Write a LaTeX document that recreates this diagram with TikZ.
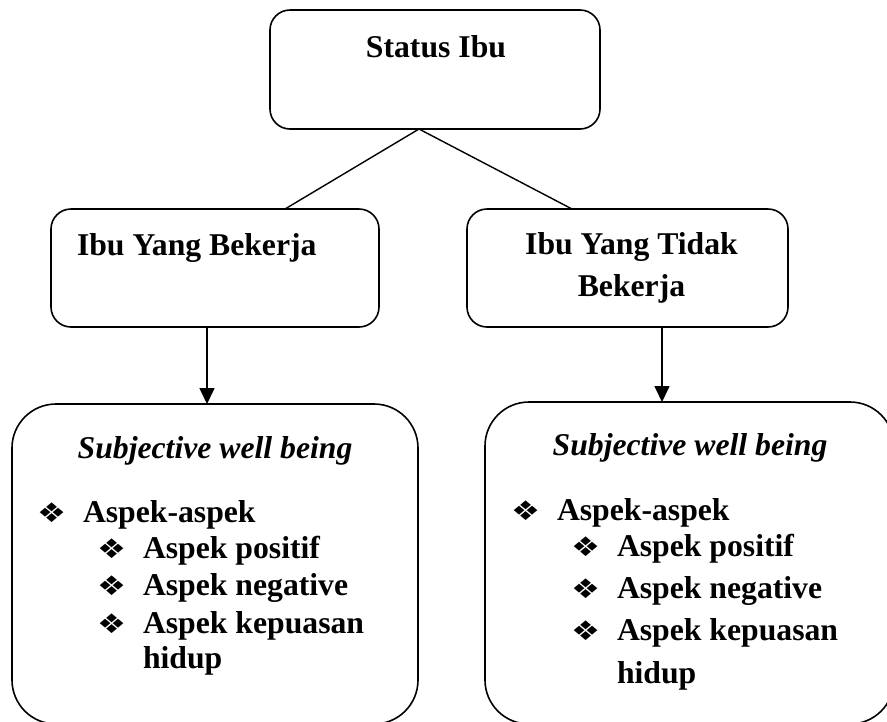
\documentclass[tikz,border=0pt]{standalone}
\usepackage{fontspec}
\setmainfont{Liberation Serif}
\newfontfamily\symfont{DejaVu Sans}
\usetikzlibrary{arrows.meta,calc}
\tikzset{
  box/.style={draw, line width=1.6pt, rounded corners=#1, inner sep=0pt, outer sep=0pt},
  txt/.style={inner sep=0pt, outer sep=0pt, font=\fontsize{31.7}{38}\selectfont\bfseries},
  itxt/.style={inner sep=0pt, outer sep=0pt, font=\fontsize{31.7}{38}\selectfont\bfseries\itshape},
  bul/.style={inner sep=0pt, outer sep=0pt, anchor=base west, font=\fontsize{27}{30}\selectfont\symfont},
  conn/.style={line width=1.4pt},
  arr/.style={line width=1.6pt, -{Triangle[width=15pt,length=16pt]}},
}
\newcommand{\bl}{\scalebox{1.2}[1]{\char"2756}}
\begin{document}
\begin{tikzpicture}[x=1pt,y=-1pt]
\clip (0,0) rectangle (887,721);
% boxes
\node[box=20pt, minimum width=330pt, minimum height=119pt] (top) at (435,69.5) {};
\node[box=20pt, minimum width=328pt, minimum height=118pt] (lb) at (215,268) {};
\node[box=20pt, minimum width=321pt, minimum height=118pt] (rb) at (627.5,268) {};
\node[box=44pt, minimum width=406pt, minimum height=320pt] (sl) at (215,564) {};
\node[box=44pt, minimum width=409pt, minimum height=322pt] (sr) at (689.5,563) {};
% helper coordinates
\coordinate (apx) at (419,0);
\coordinate (lx) at (285,0);
\coordinate (rx) at (572,0);
\coordinate (alx) at (207,0);
\coordinate (arx) at (662,0);
% connectors
\draw[conn] (top.south -| apx) -- (lb.north -| lx);
\draw[conn] (top.south -| apx) -- (rb.north -| rx);
\draw[arr] (lb.south -| alx) -- (sl.north -| alx);
\draw[arr] (rb.south -| arx) -- (sr.north -| arx);
% texts
\node[txt, anchor=base] (t0) at (436,57) {Status Ibu};
\node[txt, anchor=base west] (t1) at (77,255) {Ibu Yang Bekerja};
\node[txt, anchor=base] (t2a) at (631.5,254) {Ibu Yang Tidak};
\node[txt, anchor=base] (t2b) at (631.5,296) {Bekerja};
% left list
\node[itxt, anchor=base] (sw1) at (215,458) {Subjective well being};
\node[bul] (lb0) at (37,522) {\bl};
\node[txt, anchor=base west] (la0) at (83,522) {Aspek-aspek};
\node[bul] (lb1) at (97,558) {\bl};
\node[txt, anchor=base west] (la1) at (143,558) {Aspek positif};
\node[bul] (lb2) at (97,595) {\bl};
\node[txt, anchor=base west] (la2) at (143,595) {Aspek negative};
\node[bul] (lb3) at (97,633) {\bl};
\node[txt, anchor=base west] (la3) at (143,633) {Aspek kepuasan};
\node[txt, anchor=base west] (la4) at (143,668) {hidup};
% right list
\node[itxt, anchor=base] (sw2) at (690,455) {Subjective well being};
\node[bul] (rb0) at (511,520) {\bl};
\node[txt, anchor=base west] (ra0) at (557,520) {Aspek-aspek};
\node[bul] (rb1) at (571,556) {\bl};
\node[txt, anchor=base west] (ra1) at (617,556) {Aspek positif};
\node[bul] (rb2) at (571,598) {\bl};
\node[txt, anchor=base west] (ra2) at (617,598) {Aspek negative};
\node[bul] (rb3) at (571,640) {\bl};
\node[txt, anchor=base west] (ra3) at (617,640) {Aspek kepuasan};
\node[txt, anchor=base west] (ra4) at (617,683) {hidup};
\end{tikzpicture}
\end{document}
